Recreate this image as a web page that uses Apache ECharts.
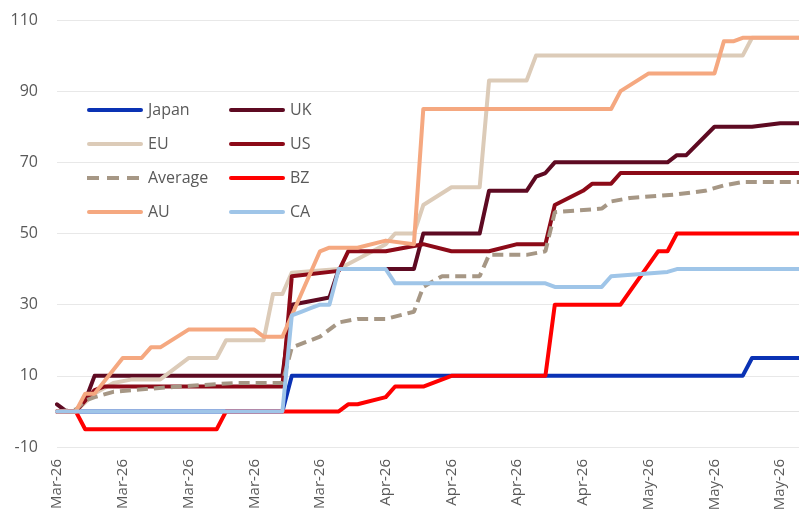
<!DOCTYPE html>
<html>
<head>
<meta charset="utf-8">
<script src="https://cdn.jsdelivr.net/npm/echarts@6/dist/echarts.min.js"></script>
<style>
html,body{margin:0;padding:0;background:#fff;}
#c{width:799px;height:514px;}
</style>
</head>
<body>
<div id="c"></div>
<script>
// Daily categories: 2 Mar 2026 onwards (80 days)
const startDate = '2026-03-02';
const dayCount = 80;
const monthNames = ['Jan','Feb','Mar','Apr','May','Jun','Jul','Aug','Sep','Oct','Nov','Dec'];
const yTicks = [-10, 10, 30, 50, 70, 90, 110];

// Series vertices: [day index, value]
const japan = [[0,0],[24,0],[25,10],[73,10],[74,15],[79,15]];
const uk = [[0,2],[1,0],[2,0],[3,3],[4,10],[24,10],[25,30],[29,32],[30,40],[38,40],[39,50],[45,50],[46,62],[50,62],[51,66],[52,67],[53,70],[65,70],[66,72],[67,72],[70,80],[74,80],[77,81],[79,81]];
const eu = [[0,0],[2,0],[4,5],[6,8],[8,9],[11,9],[14,15],[17,15],[18,20],[22,20],[23,33],[24,33],[25,39],[30,40],[35,47],[36,50],[38,50],[39,58],[42,63],[45,63],[46,93],[50,93],[51,100],[73,100],[74,105],[79,105]];
const us = [[0,0],[2,0],[3,3],[4,6],[5,7],[24,7],[25,38],[30,39.5],[31,45],[35,45],[39,47],[42,45],[46,45],[49,47],[52,47],[53,58],[56,62],[57,64],[59,64],[60,67],[79,67]];
const average = [[0,0],[2,0.5],[3,3],[4,4],[6,5.5],[8,6],[13,7],[19,8],[24,8],[25,18],[28,21],[30,25],[32,26],[35,26],[38,28],[39,35],[41,38],[45,38],[46,44],[50,44],[52,45],[53,56],[58,57],[59,59],[61,60],[66,61],[69,62],[71,63.5],[73,64.5],[79,64.5]];
const bz = [[0,0],[2,0],[3,-5],[17,-5],[18,0],[30,0],[31,2],[32,2],[35,4],[36,7],[39,7],[42,10],[52,10],[53,30],[60,30],[64,45],[65,45],[66,50],[79,50]];
const au = [[0,0],[2,0],[3,5],[4,5],[7,15],[9,15],[10,18],[11,18],[14,23],[21,23],[22,21],[24,21],[28,45],[29,46],[32,46],[35,48],[38,47],[39,85],[59,85],[60,90],[63,95],[70,95],[71,104],[72,104],[73,105],[79,105]];
const ca = [[0,0],[24,0],[25,27],[26,28],[27,29],[28,30],[29,30],[30,40],[35,40],[36,36],[52,36],[53,35],[58,35],[59,38],[65,39.2],[66,40],[79,40]];

const categories = [];
{
  const d0 = new Date(startDate + 'T00:00:00Z');
  for (let i = 0; i < dayCount; i++) {
    const d = new Date(d0.getTime() + i * 86400000);
    categories.push(d.toISOString().slice(0,10));
  }
}
function fmtDate(s){
  const m = parseInt(s.slice(5,7),10)-1;
  return monthNames[m] + '-' + s.slice(2,4);
}

const font = '"Open Sans", Lato, sans-serif';
const txt = '#595959';
const solidIcon = 'path://M2,0 L54,0 A2,2 0 0 1 54,4 L2,4 A2,2 0 0 1 2,0 Z';
const dashIcon = 'path://M0,0 L12,0 L12,4 L0,4 Z M20,0 L32,0 L32,4 L20,4 Z M40,0 L52,0 L52,4 L40,4 Z M56,0 L56,4 Z';

function line(name, data, color, extra){
  return Object.assign({
    name, type:'line', data, showSymbol:false, symbol:'none',
    lineStyle:{color, width:4, cap:'round', join:'round'},
    itemStyle:{color}, z:2
  }, extra||{});
}
function legendItems(names){
  return names.map(n => ({name:n, icon: n === 'Average' ? dashIcon : solidIcon}));
}
const legendCommon = {
  orient:'vertical', top:102, padding:0,
  itemWidth:56, itemHeight:5, itemGap:18,
  textStyle:{color:txt, fontSize:16, lineHeight:16, fontFamily:font}
};

const chart = echarts.init(document.getElementById('c'), null, {renderer:'canvas'});
chart.setOption({
  animation:false,
  backgroundColor:'#fff',
  grid:{left:57, right:0, top:20, bottom:67, containLabel:false},
  legend:[
    Object.assign({data:legendItems(['Japan','EU','Average','AU']), left:87}, legendCommon),
    Object.assign({data:legendItems(['UK','US','BZ','CA']), left:229}, legendCommon)
  ],
  xAxis:{
    type:'category', data:categories, boundaryGap:false,
    axisLine:{show:true, lineStyle:{color:'#e3e3e3', width:1}},
    axisTick:{show:false},
    axisLabel:{interval:6, rotate:90, margin:12, fontSize:15, color:txt, fontFamily:font,
      formatter:(v)=>fmtDate(v)},
    splitLine:{show:false}
  },
  yAxis:{
    type:'value', min:yTicks[0], max:yTicks[yTicks.length-1], interval:20,
    axisLine:{show:false}, axisTick:{show:false},
    axisLabel:{fontSize:16, color:txt, fontFamily:font, margin:19},
    splitLine:{lineStyle:{color:'#e8e8e8', width:1}}
  },
  series:[
    line('Japan', japan, '#0a32b4'),
    line('UK', uk, '#5e0a22'),
    line('EU', eu, '#dccbb8'),
    line('US', us, '#8c0a18'),
    line('Average', average, '#a69785', {lineStyle:{color:'#a69785', width:4, type:[11,6], cap:'butt'}}),
    line('BZ', bz, '#ff0000'),
    line('AU', au, '#f5a880'),
    line('CA', ca, '#9fc5e8')
  ]
});
</script>
</body>
</html>
